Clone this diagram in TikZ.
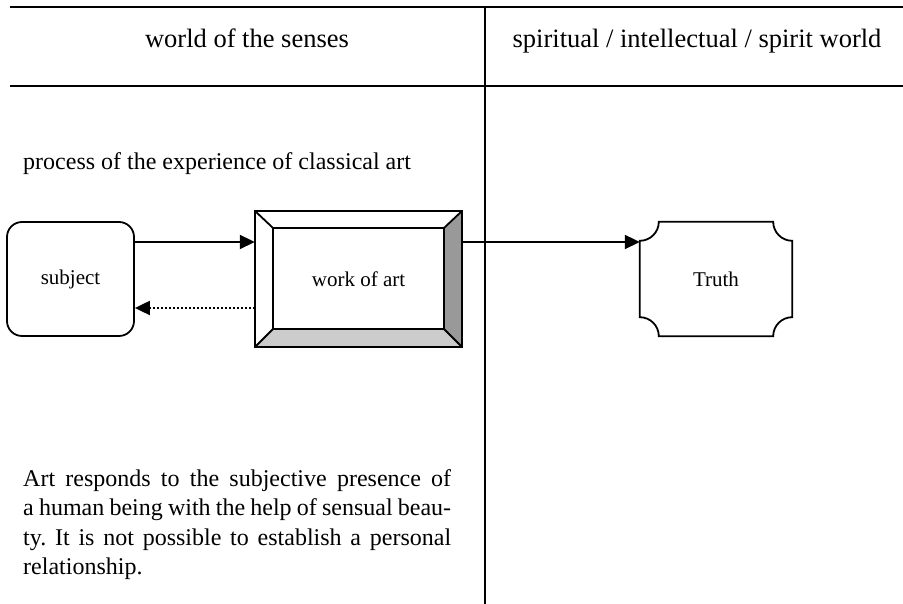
\documentclass[tikz,border=0pt]{standalone}
\usepackage{fontspec}
\setmainfont{Liberation Serif}
\usetikzlibrary{arrows.meta,calc}

\begin{document}
\frenchspacing
\begin{tikzpicture}[x=1pt,y=1pt,>={Triangle[length=15pt,width=14pt]},
	rule/.style={line width=2.2pt},
	head/.style={anchor=base,font=\fontsize{26.5}{30}\selectfont},
	box/.style={minimum width=#1,inner sep=0pt,font=\fontsize{21}{24}\selectfont},
	edge/.style={line width=1.8pt},
	link/.style={->,line width=2pt},
	back/.style={link,dash pattern=on 2pt off 2pt},
	para/.style={text width=428pt,align=justify,inner sep=0pt,anchor=north west,
		font=\fontsize{24}{29.5}\selectfont}]

\useasboundingbox (0,0) rectangle (903,604);

% table
\draw[rule] (10,597) -- (903,597);
\draw[rule] (10,518) -- (903,518);
\draw[rule] (485,597) -- (485,0);

\node[head]   (senses)  at (247,556)    {world of the senses};
\node[head]   (spirit)  at (697,556)    {spiritual / intellectual / spirit world};
\node[anchor=base west,inner sep=0pt,font=\fontsize{24}{29.5}\selectfont]
	(process) at (23,434) {process of the experience of classical art};

% nodes
\node[box=127pt,minimum height=114pt,draw,edge,rounded corners=15pt]
	(subj) at (70.5,325) {subject};
\node[box=207pt,minimum height=136pt] (art) at (358.5,325) {};
\node[box=152pt,minimum height=114pt] (truth) at (716,325) {Truth};

% frame of the work
\fill[gray!80] (art.north east) -- (art.south east) -- ($(art.south east)+(-18,18)$)
	-- ($(art.north east)+(-18,-17)$) -- cycle;
\fill[gray!40] (art.south west) -- (art.south east) -- ($(art.south east)+(-18,18)$)
	-- ($(art.south west)+(18,18)$) -- cycle;
\draw[edge] (art.north west) rectangle (art.south east);
\draw[edge] ($(art.north west)+(18,-17)$) rectangle ($(art.south east)+(-18,18)$);
\draw[edge] (art.north west) -- ++(18,-17)  (art.north east) -- ++(-18,-17)
	(art.south west) -- ++(18,18)  (art.south east) -- ++(-18,18);
\node[font=\fontsize{21}{24}\selectfont] at (art) {work of art};

% truth outline
\draw[edge] ($(truth.north west)+(19,0)$) -- ($(truth.north east)+(-19,0)$)
	arc[start angle=180,end angle=270,radius=19]
	-- ($(truth.south east)+(0,19)$) arc[start angle=90,end angle=180,radius=19]
	-- ($(truth.south west)+(19,0)$) arc[start angle=0,end angle=90,radius=19]
	-- ($(truth.north west)+(0,-19)$) arc[start angle=270,end angle=360,radius=19]
	-- cycle;

% connectors
\draw[link] ([yshift=37pt]subj.east) -- ([yshift=37pt]art.west);
\draw[back] ([yshift=-29pt]art.west) -- ([yshift=-29pt]subj.east);
\draw[link] ([yshift=37pt]art.east) -- ([yshift=37pt]truth.west);

\node[para] (note) at (23,135) {Art responds to the subjective presence of\linebreak
	a human being with the help of sensual beau-\linebreak
	ty. It is not possible to establish a personal\linebreak
	relationship.};

\end{tikzpicture}
\end{document}
